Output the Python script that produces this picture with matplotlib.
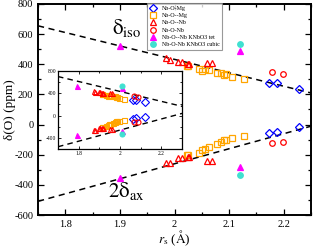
import matplotlib
matplotlib.use("Agg")
import matplotlib.pyplot as plt
from matplotlib.ticker import MultipleLocator, FuncFormatter
import numpy as np

plt.rcParams['font.family'] = ['Liberation Serif', 'DejaVu Serif']
plt.rcParams['mathtext.fontset'] = 'stix'
plt.rcParams['axes.unicode_minus'] = False

# r_s (A), delta_iso and 2*delta_ax (ppm) for each bond type
mg_x = [2.173, 2.187, 2.229]
mg_iso = [275, 275, 235]
mg_ax = [-57, -50, -17]

mg2_x = [2.022, 2.025, 2.044, 2.051, 2.055, 2.064, 2.078, 2.085, 2.091, 2.095, 2.105, 2.127]
mg2_iso = [388, 388, 368, 355, 368, 361, 342, 342, 328, 335, 315, 302]
mg2_ax = [-204, -200, -186, -170, -159, -150, -130, -115, -105, -100, -90, -79]

nb2_x = [1.984, 1.991, 2.007, 2.013, 2.024, 2.027, 2.060, 2.069]
nb2_iso = [439, 426, 416, 416, 399, 399, 406, 406]
nb2_ax = [-257, -257, -223, -223, -216, -216, -243, -243]

nb_x = [2.178, 2.198]
nb_iso = [348, 335]
nb_ax = [-124, -117]

tet_x = [1.90, 2.12]
tet_iso = [521, 488]
tet_ax = [-356, -283]

cub_x = [2.12]
cub_iso = [534]
cub_ax = [-336]

# linear fits: value at r_s = 1.75 and slope (ppm / A)
iso_fit = [655, -890]
ax_fit = [-509, 996]

# inset uses r_s shifted by this amount
inset_shift = 0.11

labels = ["Nb-O-Mg", "Nb-O--Mg", "Nb-O--Nb", "Nb-O-Nb",
          "Nb-O--Nb KNbO3 tet", "Nb-O-Nb KNbO3 cubic"]

series = [
    (mg_x, mg_iso, mg_ax, dict(marker='D', mfc='none', mec='blue')),
    (mg2_x, mg2_iso, mg2_ax, dict(marker='s', mfc='none', mec='orange')),
    (nb2_x, nb2_iso, nb2_ax, dict(marker='^', mfc='none', mec='red')),
    (nb_x, nb_iso, nb_ax, dict(marker='o', mfc='none', mec='red')),
    (tet_x, tet_iso, tet_ax, dict(marker='^', mfc='magenta', mec='magenta')),
    (cub_x, cub_iso, cub_ax, dict(marker='o', mfc='turquoise', mec='turquoise')),
]


def fit_line(fit, x):
    return fit[0] + fit[1] * (np.asarray(x) - 1.75)


def style_ticks(ax, size, major, minor, width):
    ax.tick_params(which='both', direction='in', top=True, right=True,
                   labelsize=size, width=width)
    ax.tick_params(which='major', length=major)
    ax.tick_params(which='minor', length=minor)
    ax.xaxis.set_major_formatter(FuncFormatter(lambda v, p: '%g' % round(v, 3)))


fig = plt.figure(figsize=(3.15, 2.48), dpi=100)
ax = fig.add_axes([0.121, 0.133, 0.866, 0.851])

xl = np.array([1.75, 2.25])
ax.plot(xl, fit_line(iso_fit, xl), 'k--', lw=1.1, dashes=(4, 3))
ax.plot(xl, fit_line(ax_fit, xl), 'k--', lw=1.1, dashes=(4, 3))

handles = []
for (x, iso, axv, st), lab in zip(series, labels):
    h, = ax.plot(x, iso, ls='none', ms=4.0, mew=0.9, label=lab, **st)
    ax.plot(x, axv, ls='none', ms=4.0, mew=0.9, **st)
    handles.append(h)

ax.set_xlim(1.75, 2.25)
ax.set_ylim(-600, 800)
ax.xaxis.set_major_locator(MultipleLocator(0.1))
ax.xaxis.set_minor_locator(MultipleLocator(0.05))
ax.yaxis.set_major_locator(MultipleLocator(200))
ax.yaxis.set_minor_locator(MultipleLocator(100))
style_ticks(ax, 7.5, 4, 2.5, 0.9)
for s in ax.spines.values():
    s.set_linewidth(1.4)

ax.set_xlabel(r'$r_{\rm s}$ ($\rm\AA$)', fontsize=9.5, labelpad=-0.5)
ax.set_ylabel('δ(O) (ppm)', fontsize=9.5, labelpad=-1)

ax.text(1.886, 600, r'$\mathrm{\delta_{iso}}$', fontsize=15)
ax.text(1.878, -480, r'$\mathrm{2\delta_{ax}}$', fontsize=15)

leg = ax.legend(handles=handles, loc='upper left', bbox_to_anchor=(0.4, 1.003),
                fontsize=4.3, frameon=True, fancybox=False, borderpad=0.4,
                labelspacing=0.35, handletextpad=0.8, handlelength=1.2,
                borderaxespad=0)
leg.get_frame().set_edgecolor('gray')
leg.get_frame().set_linewidth(0.8)

# inset
ins = fig.add_axes([0.184, 0.399, 0.394, 0.315])
xi = np.array([1.7, 2.3])
ins.plot(xi, fit_line(iso_fit, xi), 'k--', lw=1.0, dashes=(4, 3))
ins.plot(xi, fit_line(ax_fit, xi), 'k--', lw=1.0, dashes=(4, 3))
for x, iso, axv, st in series:
    xs = np.asarray(x) - inset_shift
    ins.plot(xs, iso, ls='none', ms=3.6, mew=0.8, **st)
    ins.plot(xs, axv, ls='none', ms=3.6, mew=0.8, **st)
ins.set_xlim(1.7, 2.3)
ins.set_ylim(-600, 800)
ins.xaxis.set_major_locator(MultipleLocator(0.2))
ins.xaxis.set_minor_locator(MultipleLocator(0.1))
ins.yaxis.set_major_locator(MultipleLocator(400))
ins.yaxis.set_minor_locator(MultipleLocator(200))
style_ticks(ins, 4, 2.5, 1.5, 0.6)
ins.tick_params(pad=1.5)
for s in ins.spines.values():
    s.set_linewidth(0.9)

plt.savefig("out.png", dpi=100)
